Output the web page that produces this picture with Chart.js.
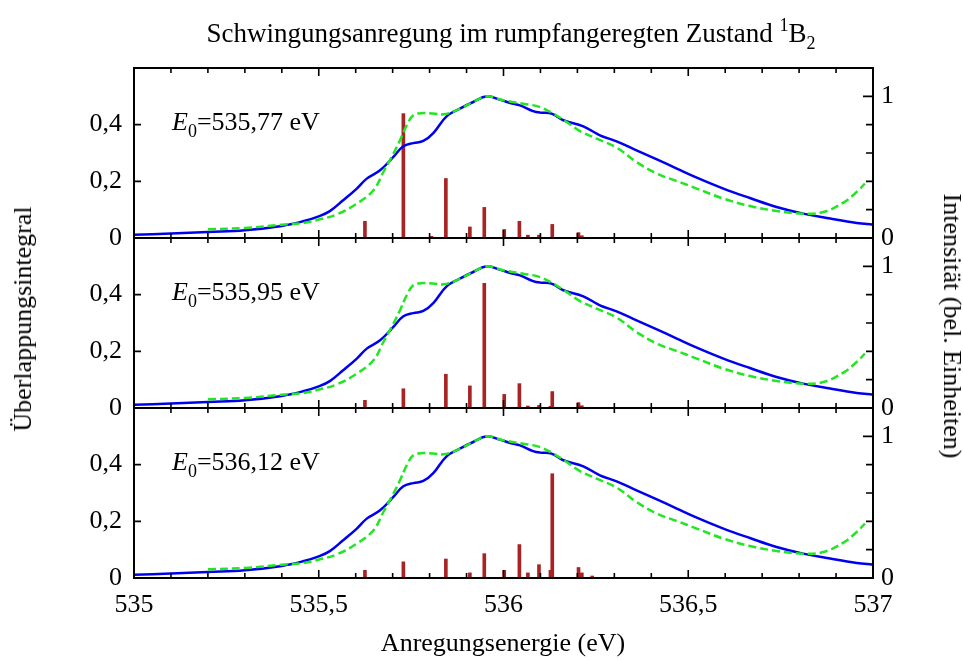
<!DOCTYPE html>
<html><head><meta charset="utf-8">
<script src="https://cdn.jsdelivr.net/npm/chart.js@4.4.1/dist/chart.umd.min.js"></script>
<style>
html,body{margin:0;padding:0;background:#fff;}
#wrap{position:relative;width:963px;height:660px;overflow:hidden;font-family:'Liberation Serif','Times New Roman',serif;color:#000;}
canvas{position:absolute;left:0;top:0;}
.t{position:absolute;white-space:nowrap;font-size:26px;line-height:30px;}
.sup{font-size:18px;position:relative;top:-11px;}
.sub{font-size:18px;position:relative;top:7px;}
</style></head><body>
<div id="wrap">
<canvas id="c1" width="963" height="660"></canvas>
<canvas id="c2" width="963" height="660"></canvas>
<canvas id="c3" width="963" height="660"></canvas>
<div class="t" style="left:511px;top:18px;font-size:27px;transform:translateX(-50%)">Schwingungsanregung im rumpfangeregten Zustand <span class="sup">1</span>B<span class="sub">2</span></div>
<div class="t" id="e1" style="left:172px;top:107px"><i>E</i><span class="sub">0</span>=535,77 eV</div>
<div class="t" id="e2" style="left:172px;top:277px"><i>E</i><span class="sub">0</span>=535,95 eV</div>
<div class="t" id="e3" style="left:172px;top:447px"><i>E</i><span class="sub">0</span>=536,12 eV</div>
<div class="t" style="left:503px;top:628px;transform:translateX(-50%)">Anregungsenergie (eV)</div>
<div class="t" style="left:23px;top:319px;transform:translate(-50%,-50%) rotate(-90deg)">Überlappungsintegral</div>
<div class="t" style="left:952px;top:326px;transform:translate(-50%,-50%) rotate(90deg)">Intensität (bel. Einheiten)</div>
</div>
<script>
// ---- data ----
const xTicks = [535, 535.5, 536, 536.5, 537];
const leftTicks = [0, 0.2, 0.4];
const rightTicks = [0, 1];

// calculated spectrum (blue, right axis)
const blueE = [535.00, 535.10, 535.20, 535.30, 535.40, 535.46, 535.50, 535.53, 535.566, 535.603, 535.63, 535.666, 535.702, 535.729, 535.756, 535.783, 535.81, 535.846, 535.882, 535.918, 535.955, 535.99, 536.018, 536.045, 536.08, 536.099, 536.13, 536.162, 536.216, 536.261, 536.306, 536.36, 536.415, 536.469, 536.523, 536.595, 536.667, 536.739, 536.811, 536.884, 536.956, 537.0];
const blueI = [0.023, 0.031, 0.042, 0.054, 0.085, 0.12, 0.153, 0.19, 0.266, 0.349, 0.419, 0.478, 0.572, 0.647, 0.67, 0.685, 0.741, 0.859, 0.913, 0.96, 1.0, 0.977, 0.953, 0.936, 0.896, 0.885, 0.878, 0.831, 0.788, 0.725, 0.682, 0.619, 0.555, 0.49, 0.426, 0.349, 0.282, 0.219, 0.172, 0.137, 0.106, 0.094];

// experimental spectrum (green dashed, right axis)
const greenE = [535.2, 535.3, 535.4, 535.458, 535.501, 535.549, 535.603, 535.648, 535.675, 535.702, 535.72, 535.738, 535.756, 535.783, 535.81, 535.837, 535.873, 535.918, 535.955, 535.999, 536.054, 536.099, 536.135, 536.171, 536.207, 536.252, 536.306, 536.36, 536.415, 536.469, 536.523, 536.595, 536.667, 536.739, 536.811, 536.865, 536.92, 536.956, 536.978];
const greenI = [0.061, 0.071, 0.094, 0.106, 0.13, 0.167, 0.243, 0.337, 0.466, 0.596, 0.69, 0.795, 0.866, 0.882, 0.878, 0.873, 0.901, 0.96, 1.0, 0.972, 0.948, 0.924, 0.878, 0.819, 0.755, 0.701, 0.638, 0.536, 0.454, 0.402, 0.349, 0.278, 0.226, 0.191, 0.172, 0.183, 0.25, 0.325, 0.384];

// overlap integrals (sticks, left axis)
const stickE1 = [535.625, 535.729, 535.805, 535.844, 535.909, 535.948, 536.002, 536.043, 536.066, 536.096, 536.132, 536.203, 536.212];
const stickV1 = [0.059, 0.439, 0.006, 0.21, 0.039, 0.108, 0.03, 0.059, 0.01, 0.01, 0.048, 0.019, 0.008];
const stickE2 = [535.625, 535.729, 535.844, 535.909, 535.948, 536.002, 536.043, 536.066, 536.096, 536.127, 536.132, 536.203, 536.212];
const stickV2 = [0.027, 0.068, 0.119, 0.078, 0.44, 0.048, 0.086, 0.007, 0.009, 0.006, 0.058, 0.019, 0.008];
const stickE3 = [535.625, 535.729, 535.844, 535.909, 535.948, 536.002, 536.043, 536.066, 536.096, 536.127, 536.132, 536.203, 536.212, 536.24];
const stickV3 = [0.027, 0.057, 0.067, 0.018, 0.086, 0.027, 0.118, 0.018, 0.047, 0.027, 0.368, 0.037, 0.018, 0.007];

// ---- rendering ----
const FONT = "'Liberation Serif','Times New Roman',serif";
function fmt(v) { return String(Math.round(v * 10) / 10).replace('.', ','); }
function pts(xs, ys) { return xs.map((e, i) => ({ x: e, y: ys[i] })); }

const frameTicks = {
  id: 'frameTicks',
  afterDatasetsDraw(chart) {
    const { ctx, chartArea: a, scales } = chart;
    const x = scales.x, y = scales.y, y2 = scales.y2;
    ctx.save();
    ctx.strokeStyle = '#000';
    ctx.lineWidth = 1.6;
    ctx.beginPath();
    for (let k = 0; k <= 20; k++) {
      const px = x.getPixelForValue(535 + k * 0.1);
      const len = (k % 5 === 0) ? 8 : 5;
      ctx.moveTo(px, a.bottom); ctx.lineTo(px, a.bottom - len);
      ctx.moveTo(px, a.top); ctx.lineTo(px, a.top + len);
    }
    leftTicks.forEach(v => {
      const py = y.getPixelForValue(v);
      ctx.moveTo(a.left, py); ctx.lineTo(a.left + 7, py);
    });
    for (let k = 0; k <= 6; k++) {
      const v = k * 0.2;
      const py = y2.getPixelForValue(v);
      const len = (k === 0 || k === 5) ? 10 : 7;
      ctx.moveTo(a.right, py); ctx.lineTo(a.right - len, py);
    }
    ctx.stroke();
    ctx.lineWidth = 2;
    ctx.strokeRect(a.left, a.top, a.right - a.left, a.bottom - a.top);
    ctx.restore();
  }
};

function makePanel(id, sE, sV, top, bottom, showX) {
  const xH = showX ? 62 : 0;
  return new Chart(document.getElementById(id), {
    type: 'bar',
    data: {
      datasets: [
        { type: 'line', data: pts(greenE, greenI), yAxisID: 'y2', borderColor: '#22e622', borderWidth: 2.5,
          borderDash: [8, 4], pointRadius: 0, tension: 0.4, fill: false, order: 0 },
        { type: 'line', data: pts(blueE, blueI), yAxisID: 'y2', borderColor: '#0000f0', borderWidth: 2.5,
          pointRadius: 0, tension: 0.4, fill: false, order: 1 },
        { type: 'bar', data: pts(sE, sV), yAxisID: 'y', backgroundColor: '#a82424', barThickness: 3, order: 2 }
      ]
    },
    options: {
      responsive: false, animation: false, devicePixelRatio: 1,
      layout: { padding: { top: top, bottom: 660 - bottom - xH, left: 0, right: 0 } },
      plugins: { legend: { display: false }, tooltip: { enabled: false }, title: { display: false } },
      scales: {
        x: {
          type: 'linear', position: 'bottom', min: 535, max: 537, offset: false,
          afterBuildTicks: s => { s.ticks = xTicks.map(v => ({ value: v })); },
          afterFit: s => { s.height = xH; },
          grid: { display: false, drawTicks: false, offset: false }, border: { display: false },
          ticks: { display: showX, autoSkip: false, maxRotation: 0, padding: 12, color: '#000',
                   font: { family: FONT, size: 26 }, callback: v => fmt(v) }
        },
        y: {
          type: 'linear', position: 'left', min: 0, max: 0.6,
          afterBuildTicks: s => { s.ticks = leftTicks.map(v => ({ value: v })); },
          afterFit: s => { s.width = 134; },
          grid: { display: false, drawTicks: false }, border: { display: false },
          ticks: { padding: 12, color: '#000', font: { family: FONT, size: 26 }, callback: v => fmt(v) }
        },
        y2: {
          type: 'linear', position: 'right', min: 0, max: 1.2,
          afterBuildTicks: s => { s.ticks = rightTicks.map(v => ({ value: v })); },
          afterFit: s => { s.width = 90; },
          grid: { display: false, drawTicks: false }, border: { display: false },
          ticks: { padding: 8, color: '#000', font: { family: FONT, size: 26 }, callback: v => fmt(v) }
        }
      }
    },
    plugins: [frameTicks]
  });
}

makePanel('c1', stickE1, stickV1, 68, 238, false);
makePanel('c2', stickE2, stickV2, 238, 408, false);
makePanel('c3', stickE3, stickV3, 408, 578, true);
</script>
</body></html>
